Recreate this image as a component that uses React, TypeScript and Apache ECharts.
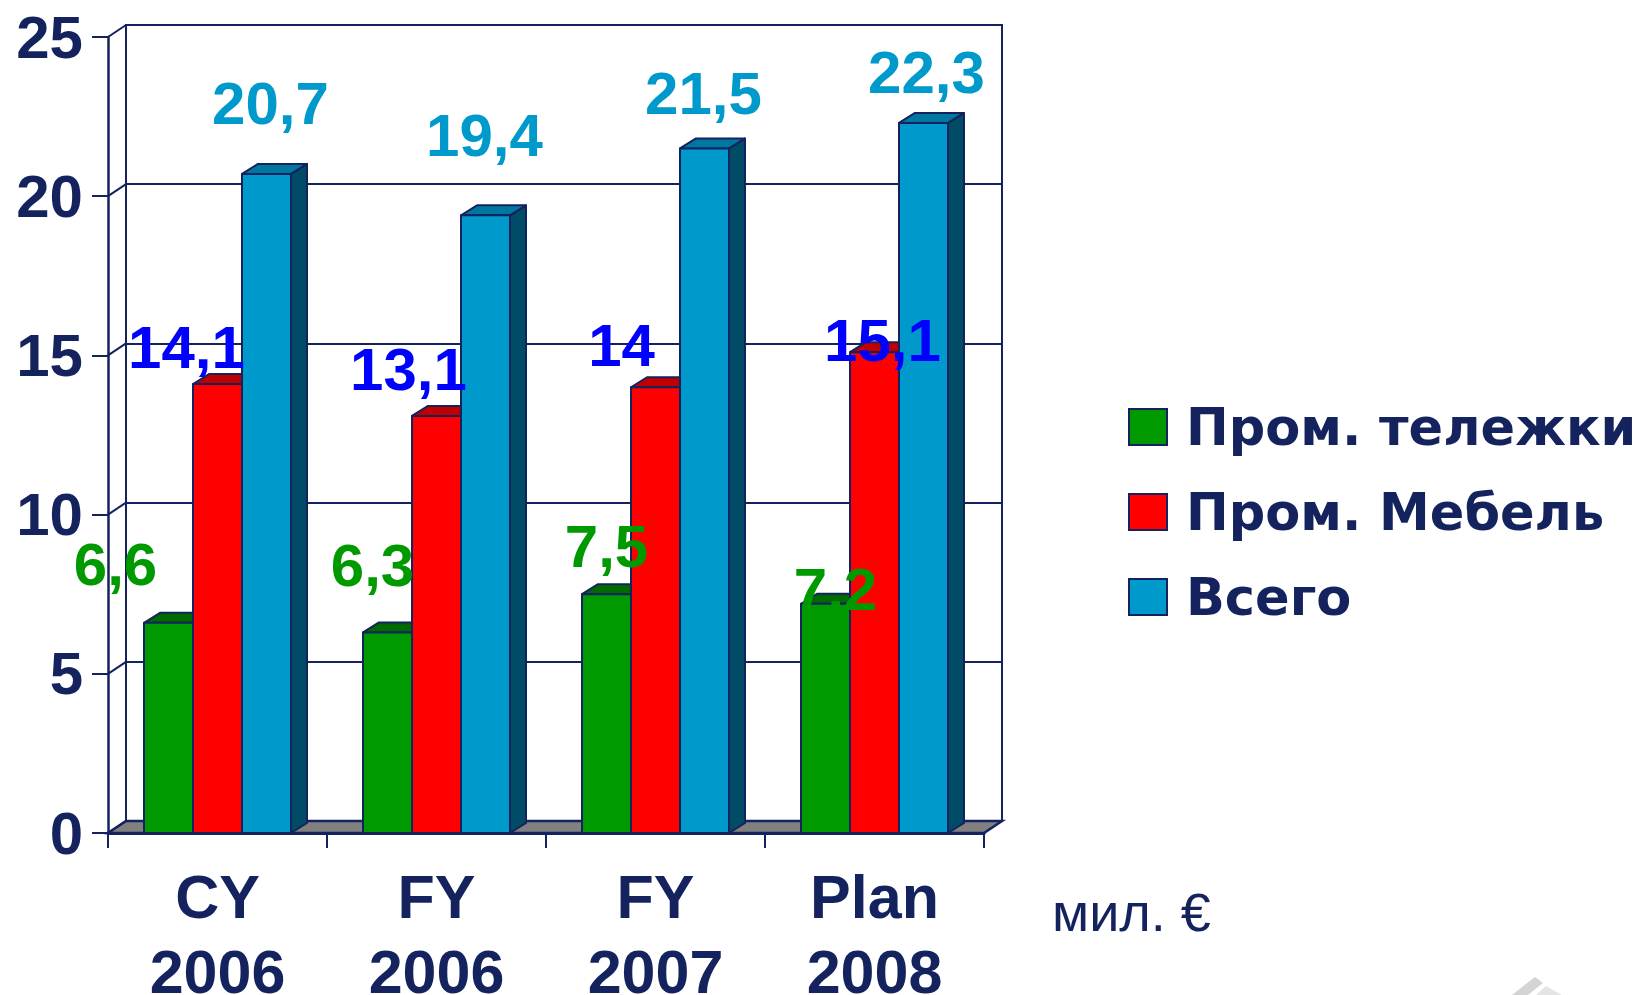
import React, { useEffect, useRef } from "react";
import * as echarts from "echarts";

const categories = ["CY\n2006", "FY\n2006", "FY\n2007", "Plan\n2008"];
const seriesNames = ["Пром. тележки", "Пром. Мебель", "Всего"];
const trucks = [6.6, 6.3, 7.5, 7.2];
const furniture = [14.1, 13.1, 14, 15.1];
const total = [20.7, 19.4, 21.5, 22.3];
const yTicks = [0, 5, 10, 15, 20, 25];
const unitLabel = "мил. €";

// styling / layout constants
const NAVY = "#14235E";
const FRONT = ["#009900", "#FF0000", "#0099CC"];
const TOP = ["#006A00", "#C00000", "#0077A0"];
const SIDE = ["#005000", "#900000", "#004C66"];
const LABEL_COLORS = ["#009900", "#0000FF", "#0099CC"];
// label nudges (px) relative to bar front-top centre
const LABEL_NUDGE = [
  [[-53, -58], [-15, -67], [0, -48], [10, -14]],
  [[-31, -37], [-28, -46], [-34, -42], [8, -12]],
  [[4, -70], [-1, -80], [-1, -55], [3, -50]],
];
const WALL_DX = 18;
const WALL_DY = -12;
const BAR_DX = 16;
const BAR_DY = -10;
const BAR_FRAC = 49 / 219;
const GROUP_OFF = 36 / 219;

const allSeries = [trucks, furniture, total];

function fmt(v: number) {
  return String(v).replace(".", ",");
}

export default function App() {
  const ref = useRef<HTMLDivElement>(null);
  useEffect(() => {
    document.body.style.margin = "0";
    const chart = echarts.init(ref.current!, null, { renderer: "svg" });
    const font = "'Liberation Sans', Arial, sans-serif";
    const legendFont = "'DejaVu Sans', 'Liberation Sans', sans-serif";

    const barSeries = allSeries.map((vals, si) => ({
      type: "custom",
      name: seriesNames[si],
      xAxisIndex: 0,
      yAxisIndex: 0,
      silent: true,
      z: 3,
      itemStyle: { color: FRONT[si] },
      encode: { x: 0, y: 1 },
      data: vals.map((v, i) => [i, v]),
      renderItem: (params: any, api: any) => {
        const idx = api.value(0);
        const val = api.value(1);
        const top = api.coord([idx, val]);
        const base = api.coord([idx, 0]);
        const band = api.size([1, 0])[0];
        const bw = band * BAR_FRAC;
        const x0 = base[0] - band / 2 + band * GROUP_OFF + si * bw;
        const x1 = x0 + bw;
        const yT = top[1];
        const yB = base[1];
        const stroke = { stroke: NAVY, lineWidth: 2, lineJoin: "round" };
        return {
          type: "group",
          children: [
            {
              type: "polygon",
              shape: { points: [[x1, yT], [x1 + BAR_DX, yT + BAR_DY], [x1 + BAR_DX, yB + BAR_DY], [x1, yB]] },
              style: { fill: SIDE[si], ...stroke },
            },
            {
              type: "polygon",
              shape: { points: [[x0, yT], [x1, yT], [x1 + BAR_DX, yT + BAR_DY], [x0 + BAR_DX, yT + BAR_DY]] },
              style: { fill: TOP[si], ...stroke },
            },
            {
              type: "rect",
              shape: { x: x0, y: yT, width: bw, height: yB - yT },
              style: { fill: FRONT[si], ...stroke },
            },
          ],
        };
      },
    }));

    const labelSeries = allSeries.map((vals, si) => ({
      type: "custom",
      name: "lbl" + si,
      xAxisIndex: 0,
      yAxisIndex: 0,
      silent: true,
      z: 6,
      encode: { x: 0, y: 1 },
      data: vals.map((v, i) => [i, v]),
      renderItem: (params: any, api: any) => {
        const idx = api.value(0);
        const val = api.value(1);
        const top = api.coord([idx, val]);
        const base = api.coord([idx, 0]);
        const band = api.size([1, 0])[0];
        const bw = band * BAR_FRAC;
        const cx = base[0] - band / 2 + band * GROUP_OFF + si * bw + bw / 2;
        const n = LABEL_NUDGE[si][idx];
        return {
          type: "text",
          x: cx + n[0],
          y: top[1] + n[1],
          style: {
            text: fmt(val),
            fill: LABEL_COLORS[si],
            font: `bold 60px ${font}`,
            align: "center",
            verticalAlign: "middle",
          },
        };
      },
    }));

    const frameSeries = {
      type: "custom",
      name: "frame",
      xAxisIndex: 0,
      yAxisIndex: 0,
      silent: true,
      z: 1,
      encode: { y: 0 },
      data: yTicks.map((t) => [t]),
      renderItem: (params: any, api: any) => {
        const cs = params.coordSys;
        const v = api.value(0);
        const y = api.coord([0, v])[1];
        const children: any[] = [
          {
            type: "line",
            shape: { x1: cs.x, y1: y, x2: cs.x + WALL_DX, y2: y + WALL_DY },
            style: { stroke: NAVY, lineWidth: 2 },
          },
        ];
        if (v === 0) {
          children.unshift({
            type: "polygon",
            shape: {
              points: [
                [cs.x, y],
                [cs.x + cs.width, y],
                [cs.x + cs.width + WALL_DX, y + WALL_DY],
                [cs.x + WALL_DX, y + WALL_DY],
              ],
            },
            style: { fill: "#808080", stroke: NAVY, lineWidth: 2.5 },
          });
        }
        return { type: "group", children };
      },
    };

    const option: any = {
      animation: false,
      backgroundColor: "#ffffff",
      grid: [
        { left: 108, top: 37, width: 876, height: 796, containLabel: false, outerBoundsMode: "none" },
        {
          left: 108 + WALL_DX,
          top: 37 + WALL_DY,
          width: 876,
          height: 796,
          show: true,
          borderColor: NAVY,
          borderWidth: 2,
          backgroundColor: "transparent",
          outerBoundsMode: "none",
        },
      ],
      xAxis: [
        {
          type: "category",
          gridIndex: 0,
          data: categories,
          boundaryGap: true,
          axisLine: { show: true, lineStyle: { color: NAVY, width: 3 } },
          axisTick: { show: true, length: 15, lineStyle: { color: NAVY, width: 2 } },
          axisLabel: {
            interval: 0,
            color: NAVY,
            fontFamily: font,
            fontWeight: "bold",
            fontSize: 61,
            lineHeight: 75,
            margin: 26,
          },
          splitLine: { show: false },
        },
        {
          type: "category",
          gridIndex: 1,
          data: categories,
          show: false,
        },
      ],
      yAxis: [
        {
          type: "value",
          gridIndex: 0,
          min: 0,
          max: 25,
          interval: 5,
          axisLine: { show: true, lineStyle: { color: NAVY, width: 2.5 } },
          axisTick: { show: true, length: 16, lineStyle: { color: NAVY, width: 2 } },
          axisLabel: {
            color: NAVY,
            fontFamily: font,
            fontWeight: "bold",
            fontSize: 60,
            margin: 25,
          },
          splitLine: { show: false },
        },
        {
          type: "value",
          gridIndex: 1,
          min: 0,
          max: 25,
          interval: 5,
          axisLine: { show: false },
          axisTick: { show: false },
          axisLabel: { show: false },
          splitLine: { show: true, lineStyle: { color: NAVY, width: 2 } },
        },
      ],
      legend: {
        data: seriesNames.map((n) => ({ name: n })),
        orient: "vertical",
        left: 1123,
        top: 392,
        itemWidth: 38,
        itemHeight: 36,
        itemGap: 25,
        icon: "rect",
        selectedMode: false,
        itemStyle: { borderColor: NAVY, borderWidth: 2 },
        textStyle: {
          color: NAVY,
          fontFamily: legendFont,
          fontWeight: "bold",
          fontSize: 51,
          lineHeight: 60,
          padding: [0, 0, 0, 14],
        },
      },
      graphic: [
        {
          type: "text",
          left: 1052,
          top: 885,
          style: {
            text: unitLabel,
            fill: NAVY,
            font: `54px ${font}`,
          },
        },
        {
          type: "polygon",
          shape: { points: [[1535, 977], [1512, 995], [1528, 995], [1543, 983]] },
          style: { fill: "#d4d4d4" },
        },
        {
          type: "polygon",
          shape: { points: [[1546, 986], [1536, 995], [1562, 995]] },
          style: { fill: "#e4e4e4" },
        },
      ],
      series: [frameSeries, ...barSeries, ...labelSeries],
    };
    chart.setOption(option);
    return () => chart.dispose();
  }, []);
  return <div ref={ref} style={{ width: 1642, height: 995 }} />;
}
